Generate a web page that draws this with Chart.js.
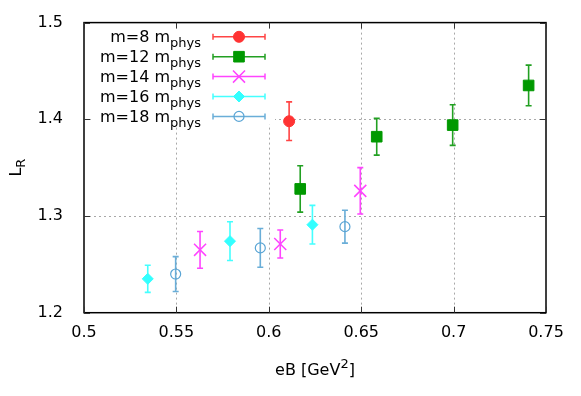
<!DOCTYPE html>
<html><head><meta charset="utf-8">
<script src="https://cdn.jsdelivr.net/npm/chart.js@4/dist/chart.umd.min.js"></script>
<style>html,body{margin:0;padding:0;background:#fff}#wrap{width:581px;height:396px;position:relative}</style>
</head><body><div id="wrap"><canvas id="c"></canvas></div>
<script>
// ---- data ----
const seriesMasses = ['8', '12', '14', '16', '18'];
const eB_m8  = [0.611];
const LR_m8  = [1.398];
const err_m8 = [0.020];
const eB_m12  = [0.617, 0.6584, 0.6995, 0.7406];
const LR_m12  = [1.328, 1.382, 1.394, 1.435];
const err_m12 = [0.024, 0.019, 0.021, 0.021];
const eB_m14  = [0.5628, 0.6062, 0.6495];
const LR_m14  = [1.265, 1.271, 1.326];
const err_m14 = [0.019, 0.0145, 0.024];
const eB_m16  = [0.5345, 0.579, 0.6236];
const LR_m16  = [1.235, 1.274, 1.291];
const err_m16 = [0.014, 0.020, 0.020];
const eB_m18  = [0.5496, 0.5954, 0.6412];
const LR_m18  = [1.240, 1.267, 1.289];
const err_m18 = [0.018, 0.020, 0.017];
const xTicks = [0.5, 0.55, 0.6, 0.65, 0.7, 0.75];
const yTicks = [1.2, 1.3, 1.4, 1.5];

const FONT = 'DejaVu Sans';
const FS = 16, SUB = 13;
function pts(xs, ys, es){ return xs.map((x,i)=>({x:x, y:ys[i], e:es[i]})); }

const styles = [
  {pointStyle:'circle',  radius:5.5, fill:'#ff3333', stroke:'#ff3333', err:'#ff4444', bw:1},
  {pointStyle:'rect',    radius:7.5, fill:'#009900', stroke:'#009900', err:'#22a022', bw:1},
  {pointStyle:'crossRot',radius:8.5, fill:'#ff44ff', stroke:'#ff44ff', err:'#ff44ff', bw:1.5},
  {pointStyle:'rectRot', radius:5.5, fill:'#33ffff', stroke:'#33ffff', err:'#44ffff', bw:1},
  {pointStyle:'circle',  radius:5,   fill:'rgba(0,0,0,0)', stroke:'#5aa5d5', err:'#6aaed8', bw:1.2}
];
const dataSets = [pts(eB_m8,LR_m8,err_m8), pts(eB_m12,LR_m12,err_m12), pts(eB_m14,LR_m14,err_m14), pts(eB_m16,LR_m16,err_m16), pts(eB_m18,LR_m18,err_m18)];

const datasets = dataSets.map((d,i)=>({
  label: 'm=' + seriesMasses[i] + ' m_phys',
  data: d,
  showLine: false,
  pointStyle: styles[i].pointStyle,
  pointRadius: styles[i].radius,
  pointHoverRadius: styles[i].radius,
  backgroundColor: styles[i].fill,
  borderColor: styles[i].stroke,
  pointBorderWidth: styles[i].bw,
  errColor: styles[i].err
}));

function drawMarker(ctx, i, x, y){
  const s = styles[i];
  ctx.save();
  ctx.fillStyle = s.fill; ctx.strokeStyle = s.stroke; ctx.lineWidth = s.bw;
  Chart.helpers.drawPoint(ctx, {pointStyle:s.pointStyle, radius:s.radius, rotation:0, borderWidth:s.bw}, x, y);
  ctx.restore();
}

const decor = {
  id: 'decor',
  beforeDatasetsDraw(chart){
    const ctx = chart.ctx, a = chart.chartArea, xs = chart.scales.x, ys = chart.scales.y;
    // grid
    ctx.save();
    ctx.strokeStyle = '#a8a8a8'; ctx.lineWidth = 1; ctx.setLineDash([2,3]);
    xs.ticks.forEach(t=>{ if (t.value> xTicks[0]+1e-9 && t.value < xTicks[xTicks.length-1]-1e-9){
      const x = Math.round(xs.getPixelForValue(t.value))+0.5;
      ctx.beginPath(); ctx.moveTo(x,a.top); ctx.lineTo(x,a.bottom); ctx.stroke(); }});
    ys.ticks.forEach(t=>{ if (t.value> yTicks[0]+1e-9 && t.value < yTicks[yTicks.length-1]-1e-9){
      const y = Math.round(ys.getPixelForValue(t.value))+0.5;
      ctx.beginPath(); ctx.moveTo(a.left,y); ctx.lineTo(a.right,y); ctx.stroke(); }});
    ctx.restore();
    // legend (opaque key)
    ctx.save();
    ctx.fillStyle = '#fff';
    ctx.fillRect(a.left+9, a.top+1, 182, 101);
    for (let i=0;i<datasets.length;i++){
      const base = a.top + 19.5 + i*19.9;
      const my = base - 5.3;
      ctx.fillStyle = '#000';
      ctx.textBaseline = 'alphabetic';
      ctx.font = SUB + 'px "' + FONT + '"';
      const subW = ctx.measureText('phys').width;
      const right = a.left + 117;
      ctx.textAlign = 'left';
      ctx.fillText('phys', right - subW, base + 5);
      ctx.font = FS + 'px "' + FONT + '"';
      ctx.textAlign = 'right';
      ctx.fillText('m=' + seriesMasses[i] + ' m', right - subW, base);
      const x1 = a.left + 129, x2 = a.left + 181, xm = (x1+x2)/2;
      ctx.strokeStyle = styles[i].err; ctx.lineWidth = 1.5;
      ctx.beginPath(); ctx.moveTo(x1,my); ctx.lineTo(x2,my);
      ctx.moveTo(x1,my-3); ctx.lineTo(x1,my+3); ctx.moveTo(x2,my-3); ctx.lineTo(x2,my+3); ctx.stroke();
      drawMarker(ctx, i, xm, my);
    }
    ctx.restore();
    // frame & inward ticks
    ctx.save();
    ctx.strokeStyle = '#000'; ctx.lineWidth = 1.5;
    ctx.strokeRect(a.left, a.top, a.right-a.left, a.bottom-a.top);
    ctx.strokeStyle = '#333'; ctx.lineWidth = 1;
    xs.ticks.forEach(t=>{ const x = Math.round(xs.getPixelForValue(t.value))+0.5;
      ctx.beginPath(); ctx.moveTo(x,a.bottom); ctx.lineTo(x,a.bottom-6); ctx.moveTo(x,a.top); ctx.lineTo(x,a.top+6); ctx.stroke(); });
    ys.ticks.forEach(t=>{ const y = Math.round(ys.getPixelForValue(t.value))+0.5;
      ctx.beginPath(); ctx.moveTo(a.left,y); ctx.lineTo(a.left+6,y); ctx.moveTo(a.right,y); ctx.lineTo(a.right-6,y); ctx.stroke(); });
    ctx.restore();
    // error bars
    chart.data.datasets.forEach(ds=>{
      ctx.save(); ctx.strokeStyle = ds.errColor; ctx.lineWidth = 1.6;
      ds.data.forEach(p=>{
        const x = xs.getPixelForValue(p.x), y1 = ys.getPixelForValue(p.y-p.e), y2 = ys.getPixelForValue(p.y+p.e);
        ctx.beginPath(); ctx.moveTo(x,y1); ctx.lineTo(x,y2);
        ctx.moveTo(x-3,y1); ctx.lineTo(x+3,y1); ctx.moveTo(x-3,y2); ctx.lineTo(x+3,y2); ctx.stroke();
      });
      ctx.restore();
    });
  },
  afterDraw(chart){
    const ctx = chart.ctx, a = chart.chartArea;
    ctx.save();
    ctx.fillStyle = '#000'; ctx.textBaseline = 'alphabetic';
    // x title
    ctx.font = FS + 'px "' + FONT + '"';
    const t1 = 'eB [GeV', t3 = ']';
    const w1 = ctx.measureText(t1).width, w3 = ctx.measureText(t3).width;
    ctx.font = SUB + 'px "' + FONT + '"';
    const w2 = ctx.measureText('2').width;
    let x = (a.left + a.right)/2 - (w1+w2+w3)/2;
    const by = 375;
    ctx.font = FS + 'px "' + FONT + '"'; ctx.textAlign = 'left';
    ctx.fillText(t1, x, by);
    ctx.font = SUB + 'px "' + FONT + '"';
    ctx.fillText('2', x + w1, by - 7);
    ctx.font = FS + 'px "' + FONT + '"';
    ctx.fillText(t3, x + w1 + w2, by);
    // y title
    ctx.translate(21, (a.top + a.bottom)/2);
    ctx.rotate(-Math.PI/2);
    ctx.font = FS + 'px "' + FONT + '"';
    const wl = ctx.measureText('L').width;
    ctx.font = SUB + 'px "' + FONT + '"';
    const wr = ctx.measureText('R').width;
    const sx = -(wl+wr)/2;
    ctx.font = FS + 'px "' + FONT + '"';
    ctx.fillText('L', sx, 0);
    ctx.font = SUB + 'px "' + FONT + '"';
    ctx.fillText('R', sx + wl, 4);
    ctx.restore();
  }
};

new Chart(document.getElementById('c'), {
  type: 'scatter',
  data: { datasets },
  options: {
    responsive: true, maintainAspectRatio: false, animation: false,
    events: [],
    layout: { padding: { left: 0, right: 35, top: 22.6, bottom: 0 } },
    plugins: { legend: { display: false }, tooltip: { enabled: false } },
    scales: {
      x: {
        type: 'linear', min: xTicks[0], max: xTicks[xTicks.length-1],
        afterBuildTicks: s => { s.ticks = xTicks.map(v=>({value:v})); },
        afterFit: s => { s.height = 83.3; s.paddingLeft = 0; s.paddingRight = 0; },
        grid: { display: false, drawTicks: false },
        border: { display: false },
        ticks: { color: '#000', padding: 11, maxRotation: 0, font: { family: FONT, size: FS },
          callback: v => String(Number(v.toFixed(2))) }
      },
      y: {
        type: 'linear', min: yTicks[0], max: yTicks[yTicks.length-1],
        afterBuildTicks: s => { s.ticks = yTicks.map(v=>({value:v})); },
        afterFit: s => { s.width = 84; s.paddingTop = 0; s.paddingBottom = 0; },
        grid: { display: false, drawTicks: false },
        border: { display: false },
        ticks: { color: '#000', padding: 21, font: { family: FONT, size: FS },
          callback: v => v.toFixed(1) }
      }
    }
  },
  plugins: [decor]
});
</script>
</body></html>
